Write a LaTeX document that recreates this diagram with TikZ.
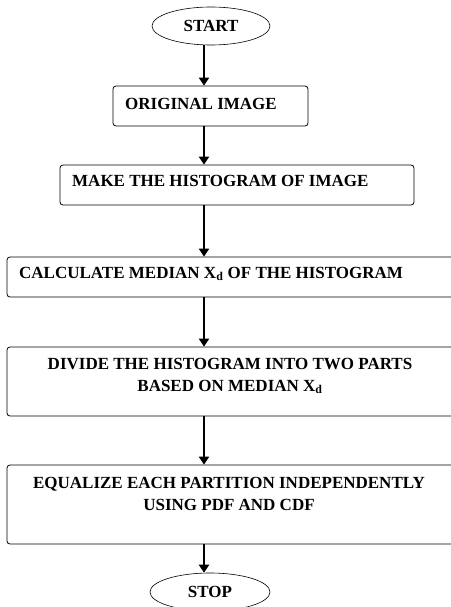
\documentclass[tikz,border=0pt]{standalone}
\usepackage{fontspec}
\setmainfont{Liberation Serif}
\usepackage{tikz}
\usetikzlibrary{shapes.geometric,arrows.meta,positioning,calc}

\begin{document}
\begin{tikzpicture}[
    x=1pt, y=-1pt,
    term/.style={ellipse, draw=black, line width=0.6pt, inner sep=0pt},
    box/.style={draw=black, line width=0.8pt, rounded corners=3pt, inner sep=0pt},
    boxtext/.style={font=\bfseries\fontsize{17}{22}\selectfont, inner sep=0pt},
    flow/.style={line width=2.3pt, -{Triangle[length=8pt,width=10pt]}}
]
    \useasboundingbox (0,0) rectangle (450,607);

    % line of the arrows
    \coordinate (spine) at (204,0);

    % Start
    \node[term, minimum width=118pt, minimum height=38pt, font=\bfseries\fontsize{17}{20}\selectfont] (start) at (211,26) {START};

    % Original image
    \node[box, minimum width=195pt, minimum height=40pt] (orig) at (210.5,106) {};
    \node[boxtext, anchor=west] (orig_t) at (125,104) {ORIGINAL IMAGE};

    % Histogram
    \node[box, minimum width=354pt, minimum height=40pt] (hist) at (237,185) {};
    \node[boxtext, anchor=west] (hist_t) at (72,181) {MAKE THE HISTOGRAM OF IMAGE};

    % Median
    \node[box, minimum width=450pt, minimum height=40pt] (median) at (232,277) {};
    \node[boxtext, anchor=west] (median_t) at (19,274) {CALCULATE MEDIAN X\textsubscript{d} OF THE HISTOGRAM};

    % Divide
    \node[box, minimum width=450pt, minimum height=69pt] (divide) at (232,381.5) {};
    \node[boxtext, align=center] (divide_t) at (230,376) {DIVIDE THE HISTOGRAM INTO TWO PARTS\\BASED ON MEDIAN X\textsubscript{d}};

    % Equalize
    \node[box, minimum width=450pt, minimum height=79pt] (equal) at (232,504.5) {};
    \node[boxtext, align=center] (equal_t) at (229,494) {EQUALIZE EACH PARTITION INDEPENDENTLY\\USING PDF AND CDF};

    % Stop
    \node[term, minimum width=120pt, minimum height=38pt, font=\bfseries\fontsize{17}{20}\selectfont] (stop) at (210,592) {STOP};

    % Arrows
    \draw[flow] (start.south -| spine) -- (orig.north -| spine);
    \draw[flow] (orig.south -| spine) -- (hist.north -| spine);
    \draw[flow] (hist.south -| spine) -- (median.north -| spine);
    \draw[flow] (median.south -| spine) -- (divide.north -| spine);
    \draw[flow] (divide.south -| spine) -- (equal.north -| spine);
    \draw[flow] (equal.south -| spine) -- (stop.north -| spine);

\end{tikzpicture}
\end{document}
